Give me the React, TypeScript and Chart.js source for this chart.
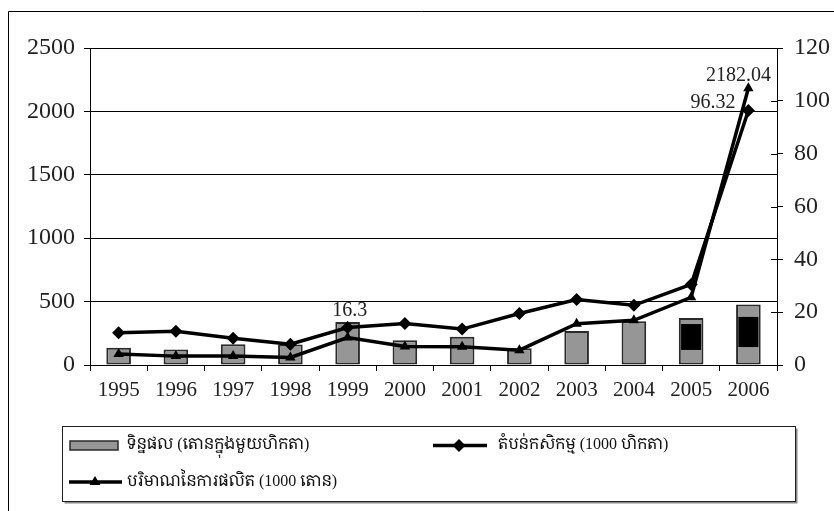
import React, { useEffect, useRef } from "react";
import { Chart, registerables } from "chart.js";

Chart.register(...registerables);

// ---- Data ----
const years = ["1995", "1996", "1997", "1998", "1999", "2000", "2001", "2002", "2003", "2004", "2005", "2006"];
// yield bars (right axis)
const yieldValues = [6.5, 5.9, 7.9, 7.8, 16.3, 9.4, 10.7, 6.3, 12.9, 16.6, 17.8, 22.9];
// dark blocks printed inside the 2005 and 2006 bars (right axis, [from, to])
const darkBlocks: ([number, number] | null)[] = [null, null, null, null, null, null, null, null, null, null, [5.7, 15.5], [6.8, 18.2]];
// agricultural area, diamonds (right axis)
const areaValues = [12.2, 12.8, 10.1, 7.9, 14.2, 15.7, 13.6, 19.5, 24.8, 22.6, 30.5, 96.32];
// production, triangles (left axis)
const productionValues = [86, 70, 70, 60, 216, 146, 143, 117, 326, 352, 534, 2182.04];

const leftMax = 2500;
const leftStep = 500;
const rightMax = 120;
const rightStep = 20;

const yieldLabel = "ទិន្នផល (តោនក្នុងមួយហិកតា)";
const areaLabel = "តំបន់កសិកម្ម (1000 ហិកតា)";
const productionLabel = "បរិមាណនៃការផលិត (1000 តោន)";

// which points carry a value label
const yieldLabelIndex = 4;
const areaLabelIndex = 11;
const productionLabelIndex = 11;

const SERIF = "'Liberation Serif', 'Times New Roman', Times, serif";
const KHMER = "'Liberation Serif', 'Noto Serif Khmer', 'Khmer OS', 'Noto Sans Khmer', serif";
const BAR_FILL = "#969696";
const BAR_EDGE = "#2a2a2a";

const decorPlugin = {
  id: "decor",
  beforeDraw(chart: any) {
    const ctx = chart.ctx;
    ctx.save();
    ctx.fillStyle = "#ffffff";
    ctx.fillRect(0, 0, chart.width, chart.height);
    ctx.strokeStyle = "#000";
    ctx.lineWidth = 1;
    ctx.beginPath();
    ctx.moveTo(8.5, chart.height);
    ctx.lineTo(8.5, 11.5);
    ctx.lineTo(chart.width, 11.5);
    ctx.stroke();
    ctx.restore();
  },
  afterDraw(chart: any) {
    const ctx = chart.ctx;
    const area = chart.chartArea;
    ctx.save();
    // crossing ticks on the right axis (inner half)
    const y1 = chart.scales.y1;
    ctx.strokeStyle = "#000";
    ctx.lineWidth = 1;
    y1.ticks.forEach((t: any) => {
      const py = Math.round(y1.getPixelForValue(t.value)) + 0.5;
      ctx.beginPath();
      ctx.moveTo(area.right - 6, py);
      ctx.lineTo(area.right, py);
      ctx.stroke();
    });

    // value labels
    ctx.fillStyle = "#222";
    ctx.font = `20px ${SERIF}`;
    ctx.textBaseline = "middle";
    const barMeta = chart.getDatasetMeta(0);
    const barEl = barMeta.data[yieldLabelIndex];
    ctx.textAlign = "center";
    ctx.fillText(String(yieldValues[yieldLabelIndex]), barEl.x + 2, barEl.y - 11);

    const areaMeta = chart.getDatasetMeta(2);
    const aEl = areaMeta.data[areaLabelIndex];
    ctx.textAlign = "right";
    ctx.fillText(String(areaValues[areaLabelIndex]), aEl.x - 13, aEl.y - 8);

    const prodMeta = chart.getDatasetMeta(3);
    const pEl = prodMeta.data[productionLabelIndex];
    ctx.textAlign = "center";
    ctx.fillText(productionValues[productionLabelIndex].toFixed(2), pEl.x - 10, pEl.y - 13);

    // legend box
    const lx = 62.5, ly = 426.5, lw = 733, lh = 75;
    ctx.strokeStyle = "#888";
    ctx.lineWidth = 2;
    ctx.beginPath();
    ctx.moveTo(lx + 2, ly + lh + 1);
    ctx.lineTo(lx + lw + 1, ly + lh + 1);
    ctx.lineTo(lx + lw + 1, ly + 2);
    ctx.stroke();
    ctx.strokeStyle = "#222";
    ctx.lineWidth = 1;
    ctx.strokeRect(lx, ly, lw, lh);

    ctx.font = `16px ${KHMER}`;
    ctx.textAlign = "left";
    ctx.textBaseline = "middle";
    ctx.fillStyle = "#111";

    // item 1: bar swatch
    ctx.fillStyle = BAR_FILL;
    ctx.fillRect(70, 441, 48, 9);
    ctx.strokeStyle = BAR_EDGE;
    ctx.lineWidth = 1.5;
    ctx.strokeRect(70, 441, 48, 9);
    ctx.fillStyle = "#111";
    ctx.fillText(chart.data.datasets[0].label, 127, 445);

    // item 2: diamond line
    ctx.strokeStyle = "#000";
    ctx.lineWidth = 3.5;
    ctx.beginPath();
    ctx.moveTo(433, 445.5);
    ctx.lineTo(487, 445.5);
    ctx.stroke();
    ctx.fillStyle = "#000";
    ctx.beginPath();
    ctx.moveTo(459, 439);
    ctx.lineTo(465.5, 445.5);
    ctx.lineTo(459, 452);
    ctx.lineTo(452.5, 445.5);
    ctx.closePath();
    ctx.fill();
    ctx.fillStyle = "#111";
    ctx.fillText(chart.data.datasets[2].label, 498, 445);

    // item 3: triangle line
    ctx.strokeStyle = "#000";
    ctx.lineWidth = 3.5;
    ctx.beginPath();
    ctx.moveTo(69, 482);
    ctx.lineTo(122, 482);
    ctx.stroke();
    ctx.fillStyle = "#000";
    ctx.beginPath();
    ctx.moveTo(95, 476);
    ctx.lineTo(100.5, 485);
    ctx.lineTo(89.5, 485);
    ctx.closePath();
    ctx.fill();
    ctx.fillStyle = "#111";
    ctx.fillText(chart.data.datasets[3].label, 127, 482);

    ctx.restore();
  },
};

export default function App() {
  const canvasRef = useRef<HTMLCanvasElement | null>(null);

  useEffect(() => {
    const canvas = canvasRef.current;
    if (!canvas) return;
    const chart = new Chart(canvas, {
      type: "bar",
      data: {
        labels: years,
        datasets: [
          {
            type: "bar",
            label: yieldLabel,
            data: yieldValues,
            yAxisID: "y1",
            backgroundColor: BAR_FILL,
            borderColor: BAR_EDGE,
            borderWidth: 2,
            borderSkipped: false,
            grouped: false,
            barPercentage: 0.43,
            categoryPercentage: 1,
            order: 3,
          } as any,
          {
            type: "bar",
            label: "",
            data: darkBlocks as any,
            yAxisID: "y1",
            backgroundColor: "#000",
            borderWidth: 0,
            grouped: false,
            barPercentage: 0.35,
            categoryPercentage: 1,
            order: 2,
          } as any,
          {
            type: "line",
            label: areaLabel,
            data: areaValues,
            yAxisID: "y1",
            borderColor: "#000",
            backgroundColor: "#000",
            borderWidth: 3.5,
            pointStyle: "rectRot",
            pointRadius: 6.5,
            pointBackgroundColor: "#000",
            pointBorderWidth: 0,
            tension: 0,
            order: 1,
          } as any,
          {
            type: "line",
            label: productionLabel,
            data: productionValues,
            yAxisID: "y",
            borderColor: "#000",
            backgroundColor: "#000",
            borderWidth: 3.5,
            pointStyle: "triangle",
            pointRadius: 6,
            pointBackgroundColor: "#000",
            pointBorderWidth: 0,
            tension: 0,
            order: 0,
          } as any,
        ],
      },
      options: {
        responsive: false,
        animation: false,
        devicePixelRatio: 1,
        layout: { padding: { top: 48, left: 0, right: 0, bottom: 0 } },
        plugins: {
          legend: { display: false },
          tooltip: { enabled: false },
          title: { display: false },
        },
        scales: {
          x: {
            type: "category",
            offset: true,
            grid: {
              offset: true,
              drawOnChartArea: false,
              drawTicks: true,
              tickLength: 6,
              color: "#000",
              lineWidth: 1,
            },
            border: { display: true, color: "#000", width: 1 },
            ticks: {
              color: "#222",
              font: { family: SERIF, size: 21 },
              padding: 7,
              maxRotation: 0,
              autoSkip: false,
            },
            afterFit: (s: any) => {
              s.height = 146;
            },
          },
          y: {
            type: "linear",
            position: "left",
            min: 0,
            max: leftMax,
            ticks: {
              stepSize: leftStep,
              color: "#222",
              font: { family: SERIF, size: 24 },
              padding: 9,
              callback: (v: any) => String(v),
            },
            grid: {
              color: "#000",
              lineWidth: 1,
              drawOnChartArea: true,
              drawTicks: true,
              tickLength: 6,
            },
            border: { display: true, color: "#000", width: 1 },
            afterFit: (s: any) => {
              s.width = 90;
            },
          },
          y1: {
            type: "linear",
            position: "right",
            min: 0,
            max: rightMax,
            ticks: {
              stepSize: rightStep,
              color: "#222",
              font: { family: SERIF, size: 24 },
              padding: 11,
              callback: (v: any) => String(v),
            },
            grid: {
              color: "#000",
              lineWidth: 1,
              drawOnChartArea: false,
              drawTicks: true,
              tickLength: 6,
            },
            border: { display: true, color: "#000", width: 1 },
            afterFit: (s: any) => {
              s.width = 57;
            },
          },
        },
      } as any,
      plugins: [decorPlugin],
    });
    return () => chart.destroy();
  }, []);

  return (
    <div style={{ position: "fixed", left: 0, top: 0, width: 834, height: 511, background: "#fff" }}>
      <canvas ref={canvasRef} width={834} height={511} style={{ width: 834, height: 511, display: "block" }} />
    </div>
  );
}
